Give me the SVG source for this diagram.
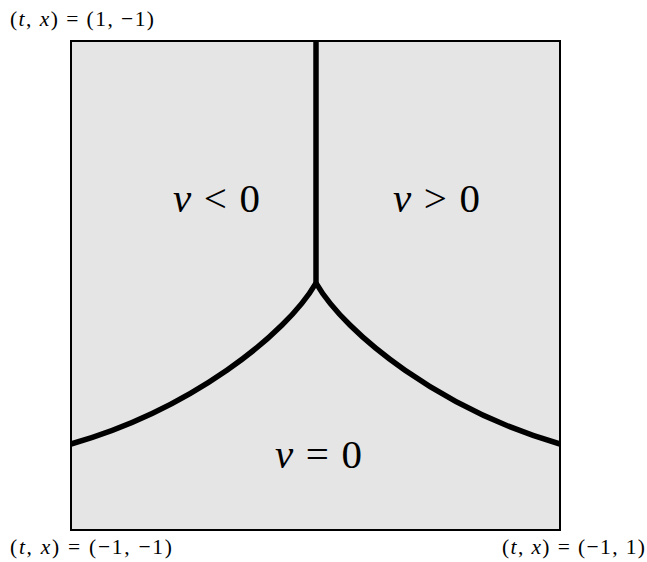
<svg xmlns="http://www.w3.org/2000/svg" width="647" height="562" viewBox="0 0 647 562">
<style>
.t{font-family:"Liberation Serif","DejaVu Serif",serif;fill:#000}
.i{font-style:italic}
.big{font-size:41px}
.sm{font-size:21.5px}
.cur{fill:none;stroke:#000;stroke-width:5.5;stroke-linejoin:round}
</style>
<rect width="647" height="562" fill="#fff"/>
<g id="region">
<rect x="71" y="41" width="489" height="489" fill="#e5e5e5" stroke="#000" stroke-width="2"/>
</g>
<g id="connectors">
<path class="cur" d="M316,41 V283"/>
<path class="cur" d="M316,283 C286,335 190,410 71,444"/>
<path class="cur" d="M316,283 C346,335 442,410 560,444"/>
</g>
<g id="label-neg"><text class="t big" x="173" y="212" textLength="87" lengthAdjust="spacing"><tspan class="i">v</tspan> &lt; 0</text></g>
<g id="label-pos"><text class="t big" x="393" y="212" textLength="87" lengthAdjust="spacing"><tspan class="i">v</tspan> &gt; 0</text></g>
<g id="label-zero"><text class="t big" x="275" y="468" textLength="87" lengthAdjust="spacing"><tspan class="i">v</tspan> = 0</text></g>
<g id="corner-tl"><text class="t sm" x="10" y="26" textLength="144" lengthAdjust="spacing">(<tspan class="i">t</tspan>, <tspan class="i">x</tspan>) = (1, −1)</text></g>
<g id="corner-bl"><text class="t sm" x="10" y="554" textLength="162" lengthAdjust="spacing">(<tspan class="i">t</tspan>, <tspan class="i">x</tspan>) = (−1, −1)</text></g>
<g id="corner-br"><text class="t sm" x="502" y="554" textLength="143" lengthAdjust="spacing">(<tspan class="i">t</tspan>, <tspan class="i">x</tspan>) = (−1, 1)</text></g>
</svg>
